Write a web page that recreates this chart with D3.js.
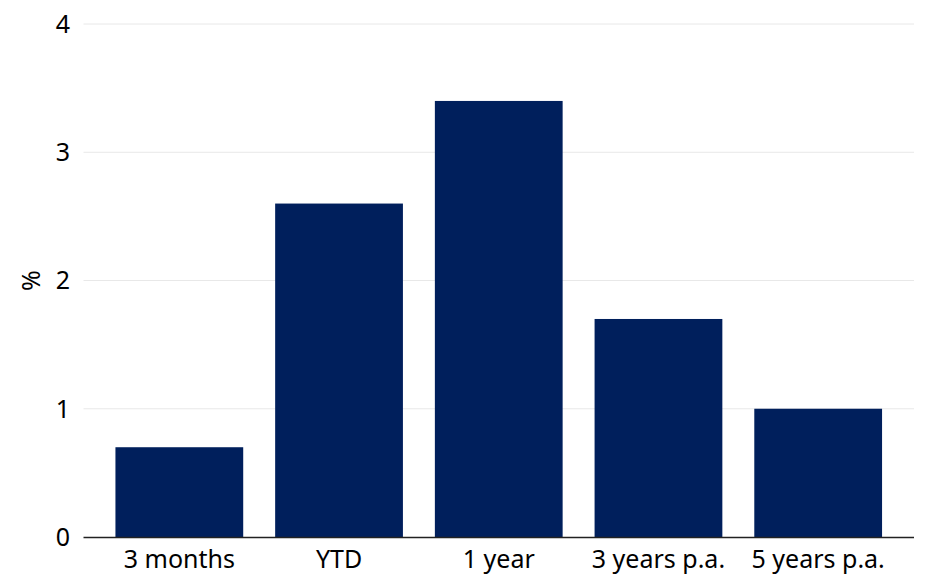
<!DOCTYPE html>
<html>
<head>
<meta charset="utf-8">
<script src="https://cdn.jsdelivr.net/npm/d3@7"></script>
<style>
  body { margin: 0; background: #fff; }
  text { font-family: "Noto Sans", sans-serif; fill: #000; }
</style>
</head>
<body>
<div id="chart"></div>
<script>
let categories = ['3 months', 'YTD', '1 year', '3 years p.a.', '5 years p.a.']
let values = [0.7, 2.6, 3.4, 1.7, 1.0]
let yTicks = [0, 1, 2, 3, 4]

let width = 928, height = 588
let margin = { top: 24, right: 14, bottom: 51, left: 83.5 }
let fontSize = '25px'

let svg = d3.select('#chart')
  .append('svg')
  .attr('width', width)
  .attr('height', height)

let x = d3.scaleBand()
  .domain(categories)
  .range([margin.left, width - margin.right])
  .padding(0.2)

let y = d3.scaleLinear()
  .domain([0, 4])
  .range([height - margin.bottom, margin.top])

// grid lines
svg.append('g')
  .selectAll('line')
  .data(yTicks.slice(1))
  .enter()
  .append('line')
  .attr('x1', margin.left)
  .attr('x2', width - margin.right)
  .attr('y1', d => y(d))
  .attr('y2', d => y(d))
  .attr('stroke', '#e8e8e8')
  .attr('stroke-width', 1)

// y tick labels
svg.append('g')
  .selectAll('text')
  .data(yTicks)
  .enter()
  .append('text')
  .attr('x', 70)
  .attr('y', d => y(d))
  .attr('dy', '0.35em')
  .attr('text-anchor', 'end')
  .style('font-size', fontSize)
  .text(d => d)

// y axis title
svg.append('text')
  .attr('transform', 'translate(31,' + y(2) + ') rotate(-90)')
  .attr('text-anchor', 'middle')
  .attr('dy', '0.35em')
  .style('font-size', fontSize)
  .text('%')

// bars
svg.append('g')
  .selectAll('rect')
  .data(values)
  .enter()
  .append('rect')
  .attr('x', (d, i) => x(categories[i]))
  .attr('width', x.bandwidth())
  .attr('y', d => y(d))
  .attr('height', d => y(0) - y(d))
  .attr('fill', '#001f5c')

// x axis line
svg.append('line')
  .attr('x1', margin.left)
  .attr('x2', width - margin.right)
  .attr('y1', y(0) + 0.5)
  .attr('y2', y(0) + 0.5)
  .attr('stroke', '#222')
  .attr('stroke-width', 1.5)

// x labels
svg.append('g')
  .selectAll('text')
  .data(categories)
  .enter()
  .append('text')
  .attr('x', d => x(d) + x.bandwidth() / 2)
  .attr('y', y(0) + 22)
  .attr('dy', '0.35em')
  .attr('text-anchor', 'middle')
  .style('font-size', fontSize)
  .text(d => d)
</script>
</body>
</html>
